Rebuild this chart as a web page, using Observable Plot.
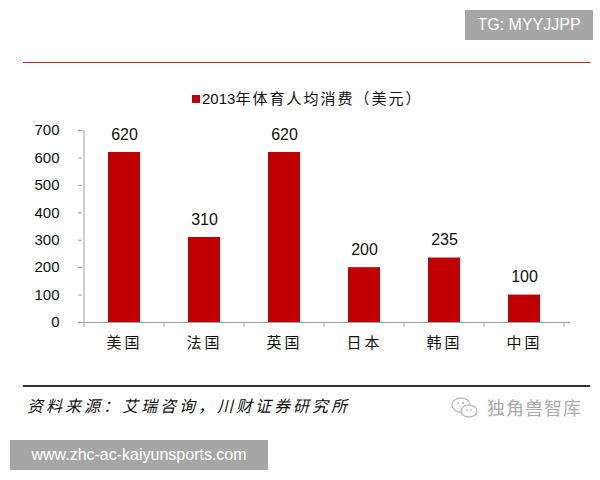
<!DOCTYPE html>
<html>
<head>
<meta charset="utf-8">
<script src="https://cdn.jsdelivr.net/npm/d3@7"></script>
<script src="https://cdn.jsdelivr.net/npm/@observablehq/plot@0.6"></script>
<style>
  html, body { margin: 0; padding: 0; background: #fff; }
  #page { position: relative; width: 600px; height: 480px; overflow: hidden; font-family: "Liberation Sans", Arial, sans-serif; }
  .abs { position: absolute; }
  #tg { left: 465px; top: 10px; width: 128px; height: 30px; background: #a6a6a6; color: #fff; font-size: 16px; line-height: 30px; text-align: center; }
  #redline { left: 23px; top: 62px; width: 567px; height: 0; border-top: 1.5px solid #b3262a; }
  #legend { left: 192px; top: 88px; height: 20px; font-size: 15px; line-height: 20px; color: #111; white-space: nowrap; }
  #legend .sw { display: inline-block; width: 8px; height: 8px; background: #C00000; margin-right: 2px; vertical-align: 1px; }
  #legend .cjk { font-family: "Noto Sans CJK SC", sans-serif; letter-spacing: 2px; }
  #chart { left: 0; top: 110px; }
  #darkline { left: 23px; top: 385px; width: 567px; height: 0; border-top: 2px solid #333; }
  #caption { left: 27px; top: 393px; font-family: "Noto Sans CJK SC", sans-serif; font-style: italic; font-size: 16px; letter-spacing: 3px; line-height: 24px; color: #111; white-space: nowrap; }
  #wx { left: 450px; top: 396px; }
  #brand { left: 487px; top: 395px; font-family: "Noto Sans CJK SC", sans-serif; font-size: 18px; line-height: 24px; color: #aaa; letter-spacing: 1px; white-space: nowrap; }
  #url { left: 10px; top: 440px; width: 258px; height: 30px; background: #a6a6a6; color: #fff; font-size: 16px; line-height: 30px; text-align: center; }
</style>
</head>
<body>
<div id="page">
  <div id="tg" class="abs">TG: MYYJJPP</div>
  <div id="redline" class="abs"></div>
  <div id="legend" class="abs"><span class="sw"></span>2013<span class="cjk">年体育人均消费（美元）</span></div>
  <div id="chart" class="abs"></div>
  <div id="darkline" class="abs"></div>
  <div id="caption" class="abs">资料来源：艾瑞咨询，川财证券研究所</div>
  <svg id="wx" class="abs" width="30" height="24" viewBox="0 0 30 24">
    <ellipse cx="11" cy="9" rx="9" ry="7" fill="none" stroke="#bbb" stroke-width="1.3"/>
    <ellipse cx="19" cy="15" rx="8" ry="6" fill="#fff" stroke="#bbb" stroke-width="1.3"/>
    <circle cx="8" cy="7" r="1" fill="#bbb"/><circle cx="13" cy="7" r="1" fill="#bbb"/>
    <circle cx="17" cy="14" r="0.9" fill="#bbb"/><circle cx="21" cy="14" r="0.9" fill="#bbb"/>
  </svg>
  <div id="brand" class="abs">独角兽智库</div>
  <div id="url" class="abs">www.zhc-ac-kaiyunsports.com</div>
</div>
<script>
const categories = ["美国", "法国", "英国", "日本", "韩国", "中国"];
const values = [620, 310, 620, 200, 235, 100];
const yTicks = [0, 100, 200, 300, 400, 500, 600, 700];

const data = categories.map((c, i) => ({country: c, value: values[i]}));

const chart = Plot.plot({
  width: 600,
  height: 250,
  marginTop: 20,
  marginBottom: 38,
  marginLeft: 82,
  marginRight: 34,
  style: {fontFamily: "'Liberation Sans', Arial, sans-serif", fontSize: "15px", color: "#111", background: "transparent"},
  x: {domain: categories, paddingInner: 0.6, paddingOuter: 0.3, label: null},
  y: {domain: [0, 700], label: null},
  marks: [
    Plot.barY(data, {x: "country", y: "value", fill: "#C00000"}),
    Plot.ruleY([0], {stroke: "#a0a0a0", strokeWidth: 1, insetLeft: -3, insetRight: -4}),
    Plot.text(data, {x: "country", y: "value", text: d => String(d.value), dy: -18, fontSize: 16, fill: "#111"}),
    Plot.axisY({ticks: yTicks, tickSize: 4, tickPadding: 19, fontSize: 15, stroke: "#a0a0a0", label: null}),
    Plot.axisX({tickSize: 0, tickPadding: 15, fontSize: 15, fontFamily: "Noto Sans CJK SC", label: null})
  ]
});
document.getElementById("chart").appendChild(chart);

// Axis decorations from the plot's own scales
const xs = chart.scale("x");
const ys = chart.scale("y");
const svg = d3.select(chart);
svg.selectAll("[aria-label='x-axis tick label'] text").style("letter-spacing", "3px");
const y0 = ys.apply(0), yTop = ys.apply(700);
const x0 = xs.apply(categories[0]) + xs.bandwidth / 2 - xs.step / 2;
svg.append("line")
  .attr("x1", x0).attr("x2", x0).attr("y1", yTop).attr("y2", y0)
  .attr("stroke", "#a0a0a0").attr("stroke-width", 1);
const bounds = [x0].concat(categories.map(c => xs.apply(c) + xs.bandwidth / 2 + xs.step / 2));
svg.append("g").selectAll("line").data(bounds).join("line")
  .attr("x1", d => d).attr("x2", d => d).attr("y1", y0).attr("y2", y0 + 5)
  .attr("stroke", "#a0a0a0").attr("stroke-width", 1);
</script>
</body>
</html>
